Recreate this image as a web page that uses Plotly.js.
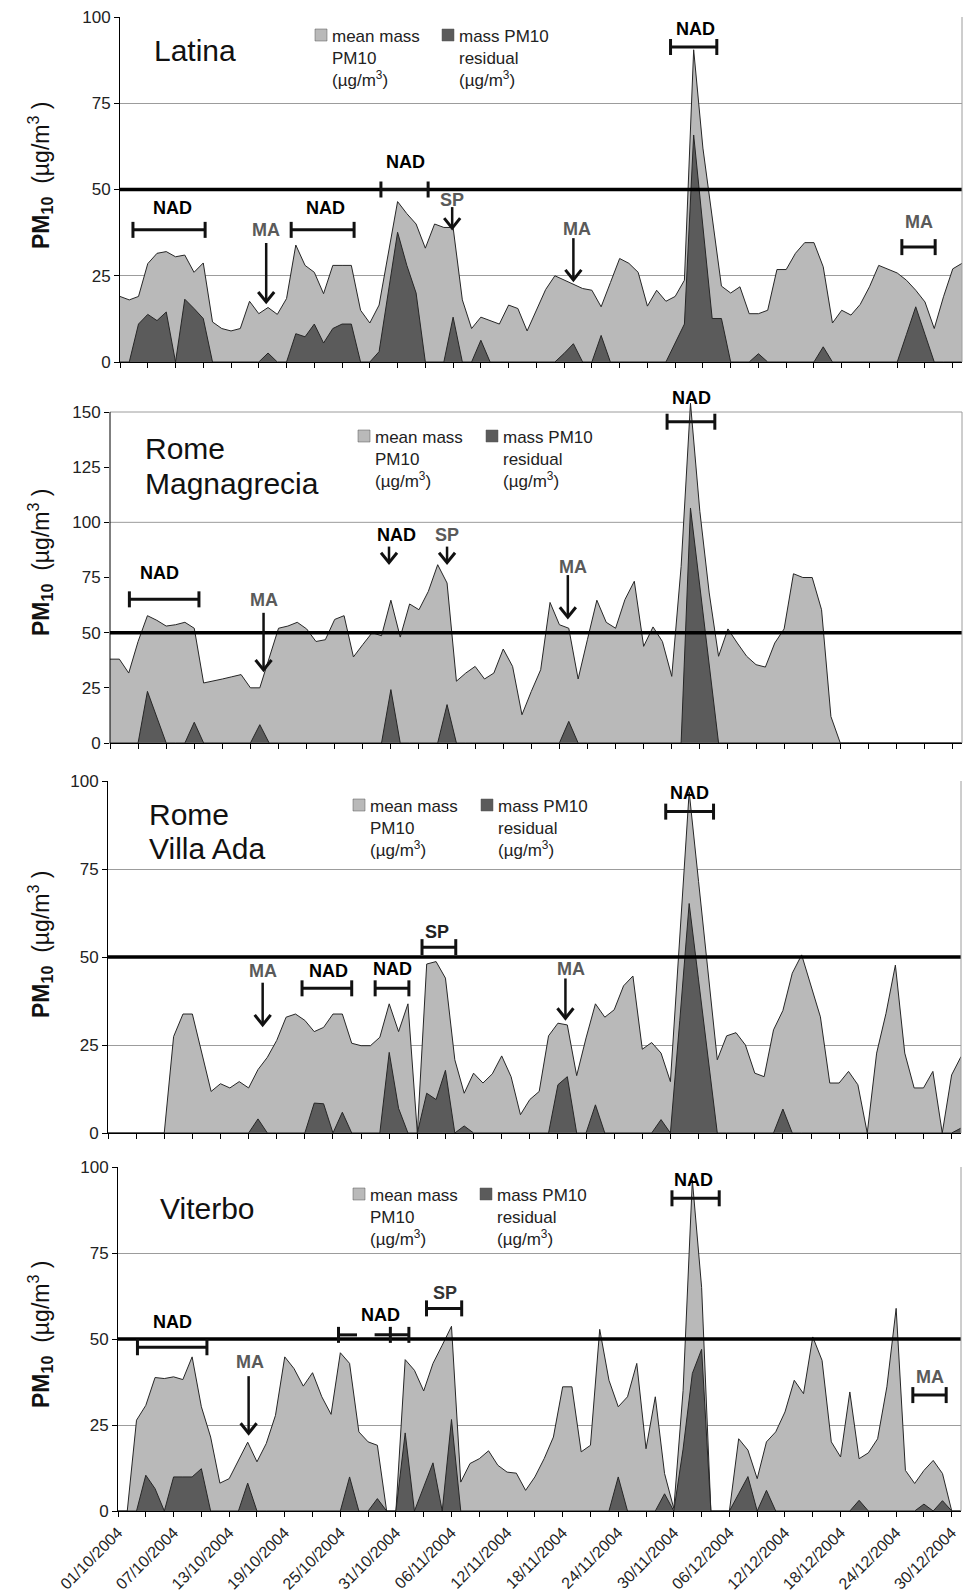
<!DOCTYPE html>
<html>
<head>
<meta charset="utf-8">
<script src="https://cdn.plot.ly/plotly-3.0.1.min.js"></script>
<style>html,body{margin:0;padding:0;background:#fff}#chart{width:965px;height:1596px}</style>
</head>
<body>
<div id="chart"></div>
<script>
// ---------------- DATA ----------------
const dates = [];       // categories (daily, 01/10/2004 .. 31/12/2004)
const dateLabels = [];  // tick labels dd/mm/yyyy
for (let i = 0; i < 92; i++) {
  const d = new Date(Date.UTC(2004, 9, 1 + i));
  const iso = d.toISOString().slice(0, 10);
  dates.push(iso);
  dateLabels.push(iso.slice(8, 10) + '/' + iso.slice(5, 7) + '/' + iso.slice(0, 4));
}

const latinaMean = [19,18,19,28.5,31.5,32,30.5,31,26,28.7, 11.6,9.7,9,9.7,17.6,14,15.8,13.8,18.4,33.9, 28,26,19.8,28,28,28,15,11.3,16.5,31, 46.5,43,40,33,40,39,39,18,9.7,13, 12,11,16.5,15.5,9,15,21,25,23.7,22.6, 21.3,20.8,16,23,30,28.6,26,16.2,20.8,17.6, 19,23.7,90.5,62,42,22,20,21.8,14,14, 15,26.8,26.8,31.5,34.6,34.6,27.6,11.3,15,13.6, 16.7,21.8,28,26.8,25.8,23.7,20.8,17.4,9.7,18.9, 27,28.6];
const latinaResidual = [0,0,11,13.8,12,14.5,0,18.2,15.5,12.6, 0,0,0,0,0,0,2.6,0,0,8.2, 7.3,11,5.5,9.7,11,11,0,0,3,20, 37.6,28,20,0,0,0,13,0,0,6.3, 0,0,0,0,0,0,0,0,2.5,5.3, 0,0,7.7,0,0,0,0,0,0,0, 5.5,11,65.8,39,12.6,12.6,0,0,0,2.4, 0,0,0,0,0,0,4.4,0,0,0, 0,0,0,0,0,8,16,8,0,0, 0,0];

const magnaMean = [38,38,31.7,46,57.7,55.6,53,53.6,54.7,52, 27.2,28,29,30,31,25,25,38.5,52,53, 54.7,51.7,46,46.8,56,57.7,39,44.6,50,48.6, 64.7,48,63,60.4,68.7,80.8,72.5,28,31.7,34.7, 29,31.7,42.6,34.7,12.8,23.4,33.2,63.7,53.6,52, 29,47,64.7,54.7,52,65,73.3,43.8,52.6,46, 30.2,80,154,105,68,39.3,51.7,45.3,39.3,35.5, 34.4,45.3,51.7,76.7,75,75,60.4,12,0,0, 0,0,0,0,0,0,0,0,0,0, 0,0];
const magnaResidual = [0,0,0,0,23.4,11.8,0,0,0,9.4, 0,0,0,0,0,0,8.3,0,0,0, 0,0,0,0,0,0,0,0,0,0, 24.2,0,0,0,0,0,17.4,0,0,0, 0,0,0,0,0,0,0,0,0,9.8, 0,0,0,0,0,0,0,0,0,0, 0,0,106.5,71,35,0,0,0,0,0, 0,0,0,0,0,0,0,0,0,0, 0,0,0,0,0,0,0,0,0,0, 0,0];

const villaMean = [0,0,0,0,0,0,0,27.4,33.8,33.8, 22.7,11.8,14,12.8,14.6,12.8,18,21.5,26.3,32.9, 33.8,32,28.8,30,33.8,33.8,25.5,24.8,24.8,27.2, 36.7,28.8,36.7,0,48,48.7,44,20.8,11.3,17, 14.2,16.8,21.9,16,5.2,9.5,11.8,27.6,31.2,30.7, 16.3,27,36.7,32.9,35,41.8,44.6,23.8,25.7,22.7, 14.6,55,96.9,71.5,46,20.8,27.6,28.5,25,17, 16,29.3,34.8,45.4,50.6,41.6,33,14.2,14.2,17.5, 13.7,0,22.7,34,47.7,22.7,12.8,12.8,17.5,0, 16.5,21.7];
const villaResidual = [0,0,0,0,0,0,0,0,0,0, 0,0,0,0,0,0,4,0,0,0, 0,0,8.5,8.3,0,5.9,0,0,0,0, 22.9,7,0,0,11.3,9.5,17.8,0,2,0, 0,0,0,0,0,0,0,0,13.7,16, 0,0,8,0,0,0,0,0,0,3.8, 0,32,65.2,43.5,21.7,0,0,0,0,0, 0,0,6.8,0,0,0,0,0,0,0, 0,0,0,0,0,0,0,0,0,0, 0,1.4];

const viterboMean = [0,0,26.4,30.7,38.8,38.5,39,38.2,44.8,30.3, 21.5,8.1,9.4,14.7,20,14.3,19.6,27.8,44.8,41.4, 36.3,40.2,33.2,28.1,46,42.9,23,20.1,19.1,0, 0,44,40.9,34.9,42.9,48.2,53.7,8.4,13.8,15.2, 17.5,13.3,11.3,11,6,9.9,15.2,21.5,36.1,36.1, 17.2,19.1,52.8,38,30.3,33.2,42.9,18.1,33.2,10.9, 0.7,35,96.2,65,0,0,0,21,17.7,9.4, 20.1,23,28.8,38,34.1,50.6,43.8,20.1,15.7,34.6, 15.2,16.9,21,36.1,58.9,11.8,8,11.8,14.7,10.9, 0,0];
const viterboResidual = [0,0,0,10.4,6.5,0,9.9,9.9,9.9,12.3, 0,0,0,0,8.1,0,0,0,0,0, 0,0,0,0,0,9.9,0,0,3.6,0, 0,22.7,0,7,14,0,26.6,0,0,0, 0,0,0,0,0,0,0,0,0,0, 0,0,0,0,9.9,0,0,0,0,5, 0,18,40,47,0,0,0,5,10,0, 6,0,0,0,0,0,0,0,0,0, 3.1,0,0,0,0,0,0,2,0,3, 0,0];

const stationNames = [['Latina'], ['Rome', 'Magnagrecia'], ['Rome', 'Villa Ada'], ['Viterbo']];
const legendMean = ['mean mass', 'PM10', '(µg/m<sup>3</sup>)'];
const legendResidual = ['mass PM10', 'residual', '(µg/m<sup>3</sup>)'];
const limitValue = 50;

// ---------------- LAYOUT GEOMETRY ----------------
const W = 965, H = 1596;
const FONT = 'Arial, "Liberation Sans", sans-serif';
const LIGHT = '#b9b9b9', DARK = '#5b5b5b', EDGE = '#262626';
const DAY = 86400000;

const panels = [
  {L:120, R:962, B:362,  T:17,   vmax:100, ymax:100, ticks:[0,25,50,75,100], mean:latinaMean, resid:latinaResidual,
   title:{x:152, y:[51]}, leg:{x:315, y:29, dx:127}, ytitleY:176},
  {L:110, R:962, B:743,  T:412,  vmax:150, ymax:156, ticks:[0,25,50,75,100,125,150], mean:magnaMean, resid:magnaResidual,
   title:{x:143, y:[448,484]}, leg:{x:358, y:430, dx:128}, ytitleY:563},
  {L:108, R:961, B:1133, T:781,  vmax:100, ymax:100, ticks:[0,25,50,75,100], mean:villaMean, resid:villaResidual,
   title:{x:147, y:[814,849]}, leg:{x:353, y:799, dx:128}, ytitleY:945},
  {L:118, R:961, B:1511, T:1167, vmax:100, ymax:100, ticks:[0,25,50,75,100], mean:viterboMean, resid:viterboResidual,
   title:{x:158, y:[1208]}, leg:{x:353, y:1188, dx:127}, ytitleY:1335}
];
panels.forEach(p => { p.ppu = (p.B - p.T) / p.vmax; p.topPx = p.B - p.ymax * p.ppu; });

// event markers: NAD / MA / SP (day index, value)
const events = [
  [ {bar:[1.4,9.2,38.3], label:'NAD', ld:5.7, lv:44.6, color:'#000'},
    {arrow:[15.8,34.5,17.4], label:'MA', ld:15.8, lv:38.3, color:'#5a5a5a'},
    {bar:[18.5,25.3,38.3], label:'NAD', ld:22.2, lv:44.6, color:'#000'},
    {bar:[28.2,33.3,50], label:'NAD', ld:30.9, lv:58, color:'#000'},
    {arrow:[35.9,44.9,38.8], label:'SP', ld:35.9, lv:46.9, color:'#5a5a5a'},
    {arrow:[49.0,35.9,23.8], label:'MA', ld:49.4, lv:38.6, color:'#5a5a5a'},
    {bar:[59.5,64.5,91.3], label:'NAD', ld:62.2, lv:96.5, color:'#000'},
    {bar:[84.5,88.1,33.3], label:'MA', ld:86.3, lv:40.6, color:'#5a5a5a'} ],
  [ {bar:[2.07,9.5,65.1], label:'NAD', ld:5.3, lv:77.2, color:'#000'},
    {arrow:[16.4,59,33.1], label:'MA', ld:16.4, lv:64.8, color:'#5a5a5a'},
    {arrow:[29.8,89,81.7], label:'NAD', ld:30.6, lv:94.3, color:'#000'},
    {arrow:[36.0,89,81.7], label:'SP', ld:36.0, lv:94.3, color:'#5a5a5a'},
    {arrow:[48.9,76.1,57], label:'MA', ld:49.4, lv:79.9, color:'#5a5a5a'},
    {bar:[59.5,64.6,145.6], label:'NAD', ld:62.1, lv:156.2, color:'#000'} ],
  [ {arrow:[16.5,42.7,30.7], label:'MA', ld:16.5, lv:46.1, color:'#5a5a5a'},
    {bar:[20.7,26,41.1], label:'NAD', ld:23.5, lv:46.1, color:'#000'},
    {bar:[28.5,32.1,41.1], label:'NAD', ld:30.4, lv:46.5, color:'#000'},
    {bar:[33.5,37.1,52.8], label:'SP', ld:35.1, lv:57.2, color:'#222'},
    {arrow:[48.8,43.9,32.6], label:'MA', ld:49.4, lv:46.5, color:'#5a5a5a'},
    {bar:[59.5,64.6,91.3], label:'NAD', ld:62, lv:96.5, color:'#000'} ],
  [ {bar:[2.1,9.6,47.6], label:'NAD', ld:5.9, lv:55, color:'#000'},
    {arrow:[14.1,39.2,22.6], label:'MA', ld:14.3, lv:43.4, color:'#5a5a5a'},
    {bar:[23.8,25.8,51.2], ticks:[23.8]},
    {bar:[27.7,31.4,51.2], ticks:[29.4,31.4], label:'NAD', ld:28.3, lv:57, color:'#000'},
    {bar:[33.3,37.1,58.9], label:'SP', ld:35.3, lv:63.5, color:'#333'},
    {bar:[59.8,64.9,90.9], label:'NAD', ld:62.1, lv:96.2, color:'#000'},
    {bar:[85.8,89.4,33.7], label:'MA', ld:87.6, lv:39, color:'#5a5a5a'} ]
];

// ---------------- BUILD ----------------
const px = x => x / W, py = y => 1 - y / H;
const xPx = (p, d) => p.L + (p.R - p.L) * d / (dates.length - 1);
const yPx = (p, v) => p.B - v * p.ppu;

const labelVals = dates.filter((_, i) => i % 6 === 0);
const labelText = dateLabels.filter((_, i) => i % 6 === 0);

const traces = [], shapes = [], annotations = [];
const layout = {
  width: W, height: H, margin: {l:0, r:0, t:0, b:0, pad:0},
  paper_bgcolor: '#fff', plot_bgcolor: '#fff', showlegend: false, hovermode: false,
  font: {family: FONT, color: '#222'}
};

function seg(x0, y0, x1, y1, w, c, layer) {
  shapes.push({type:'line', xref:'paper', yref:'paper', x0:px(x0), y0:py(y0), x1:px(x1), y1:py(y1),
               line:{color:c, width:w}, layer: layer || 'above'});
}
function txt(x, y, t, size, opts) {
  annotations.push(Object.assign({xref:'paper', yref:'paper', x:px(x), y:py(y), text:t, showarrow:false,
    xanchor:'center', yanchor:'middle', font:{family:FONT, size:size, color:'#222'}}, opts || {}));
}

panels.forEach((p, i) => {
  const s = i === 0 ? '' : String(i + 1);
  layout['xaxis' + s] = {
    domain: [p.L / W, p.R / W], anchor: 'y' + s, type: 'date',
    range: [dates[0], dates[dates.length - 1]],
    tickmode: 'array', tickvals: labelVals, ticktext: labelText,
    showticklabels: i === 3, tickangle: -45, tickfont: {family: FONT, size: 16, color: '#222'},
    ticks: 'outside', ticklen: 5, tickcolor: '#000', tickwidth: 1,
    minor: {tick0: dates[0], dtick: 3 * DAY, ticks: 'outside', ticklen: 5, tickcolor: '#000', tickwidth: 1, showgrid: false},
    showline: true, linecolor: '#000', linewidth: 1, showgrid: false, zeroline: false, fixedrange: true
  };
  layout['yaxis' + s] = {
    domain: [1 - p.B / H, 1 - p.topPx / H], anchor: 'x' + s, range: [0, p.ymax],
    tickmode: 'array', tickvals: p.ticks, tickfont: {family: FONT, size: 17, color: '#222'},
    ticks: 'outside', ticklen: 5, tickcolor: '#000', tickwidth: 1,
    showline: i !== 1, linecolor: '#000', linewidth: 1,
    showgrid: i !== 1, gridcolor: '#9c9c9c', gridwidth: 1, zeroline: false, fixedrange: true
  };

  traces.push({x: dates, y: p.mean, type: 'scatter', mode: 'lines', fill: 'tozeroy',
    fillcolor: LIGHT, line: {color: EDGE, width: 1}, xaxis: 'x' + s, yaxis: 'y' + s, name: 'mean mass PM10'});
  traces.push({x: dates, y: p.resid, type: 'scatter', mode: 'lines', fill: 'tozeroy',
    fillcolor: DARK, line: {color: EDGE, width: 1}, xaxis: 'x' + s, yaxis: 'y' + s, name: 'mass PM10 residual'});

  // limit line at 50
  shapes.push({type:'line', xref:'x' + s + ' domain', x0:0, x1:1, yref:'y' + s, y0:limitValue, y1:limitValue,
               line:{color:'#000', width:3.5}, layer:'above'});
  // plot-area right border
  seg(p.R, p.B, p.R, yPx(p, p.vmax), 1, '#9c9c9c', 'above');
  if (i === 1) {
    seg(p.L, yPx(p, 100), p.R, yPx(p, 100), 1, '#9c9c9c', 'below');
    seg(p.L, yPx(p, 150), p.R, yPx(p, 150), 1, '#9c9c9c', 'below');
    seg(p.L, p.B + 0.5, p.L, yPx(p, 150), 1, '#000', 'above');
  }

  // station title
  stationNames[i].forEach((t, k) => txt(p.title.x, p.title.y[k], t, 30, {xanchor:'left', font:{family:FONT, size:30, color:'#111'}}));

  // y title
  txt(40, p.ytitleY, '<b>PM</b><b><sub>10</sub></b>  (µg/m<sup>3</sup> )', 23,
      {textangle: -90, font:{family:FONT, size:23, color:'#111'}});

  // legend boxes
  const lg = p.leg;
  [[lg.x, LIGHT, legendMean], [lg.x + lg.dx, DARK, legendResidual]].forEach(([lx, col, lines]) => {
    shapes.push({type:'rect', xref:'paper', yref:'paper', x0:px(lx), x1:px(lx + 12), y0:py(lg.y + 12), y1:py(lg.y),
                 fillcolor: col, line:{color:'#555', width:0.5}, layer:'above'});
    txt(lx + 15, lg.y - 4, lines.join('<br>'), 17, {xanchor:'left', yanchor:'top', align:'left'});
  });

  // event markers
  events[i].forEach(ev => {
    if (ev.bar) {
      const [d0, d1, v] = ev.bar;
      const y = yPx(p, v);
      seg(xPx(p, d0), y, xPx(p, d1), y, 3, '#111');
      (ev.ticks || [d0, d1]).forEach(d => seg(xPx(p, d), y - 8, xPx(p, d), y + 8, 3, '#111'));
    }
    if (ev.arrow) {
      const [d, v0, v1] = ev.arrow;
      const x = xPx(p, d), y0 = yPx(p, v0), y1 = yPx(p, v1);
      seg(x, y0, x, y1 - 1, 2.5, '#111');
      shapes.push({type:'path', xref:'paper', yref:'paper', layer:'above',
        path: 'M' + px(x - 8) + ',' + py(y1 - 10) + ' L' + px(x) + ',' + py(y1) + ' L' + px(x + 8) + ',' + py(y1 - 10),
        line:{color:'#111', width:3}});
    }
    if (ev.label) {
      txt(xPx(p, ev.ld), yPx(p, ev.lv), '<b>' + ev.label + '</b>', 18, {font:{family:FONT, size:18, color:ev.color}});
    }
  });
});

layout.shapes = shapes;
layout.annotations = annotations;
Plotly.newPlot('chart', traces, layout, {staticPlot: true, displayModeBar: false});
</script>
</body>
</html>
